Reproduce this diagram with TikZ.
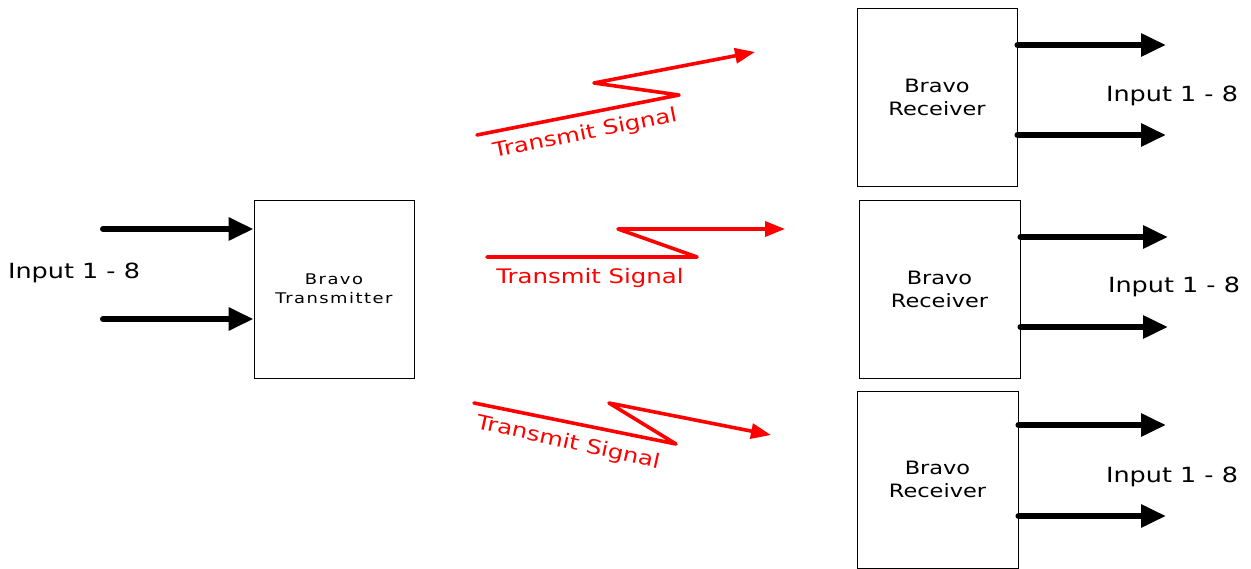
\documentclass[tikz,border=0pt]{standalone}
\usepackage{fontspec}
\setmainfont{DejaVu Sans}[FakeStretch=1.22]
\newfontfamily\txfont{DejaVu Sans}[FakeStretch=1.22,LetterSpace=10]
\usetikzlibrary{arrows.meta}
\definecolor{sigred}{RGB}{255,0,0}
\tikzset{
  unit/.style={draw, line width=0.9pt, minimum width=160pt, minimum height=178pt, align=center, inner sep=0pt},
  rxfont/.style={font=\fontsize{18.4}{23}\selectfont},
  txtext/.style={font=\txfont\fontsize{14.7}{19}\selectfont},
  bigarrow/.style={line width=6pt, line cap=round, -{Triangle[length=25pt,width=22pt]}},
  signal/.style={sigred, line width=3.6pt, line join=round, line cap=round, -{Triangle[length=20pt,width=15pt]}},
  inlabel/.style={font=\fontsize{20.9}{24}\selectfont, inner sep=0pt},
  siglabel/.style={sigred, font=\fontsize{20}{24}\selectfont, inner sep=0pt},
}
\begin{document}
\begin{tikzpicture}[x=1pt,y=-1pt]
\useasboundingbox (0,0) rectangle (1251,569);
% boxes
\node[unit, txtext] (tx) at (334,289) {Bravo\\Transmitter};
\node[unit, rxfont] (rx1) at (937,97) {Bravo\\Receiver};
\node[unit, rxfont, minimum width=161pt] (rx2) at (939.5,289) {Bravo\\Receiver};
\node[unit, rxfont, minimum width=161pt, minimum height=177pt] (rx3) at (937.5,479.5) {Bravo\\Receiver};
% input arrows
\coordinate (in1) at (103,229);
\coordinate (in2) at (103,319);
\draw[bigarrow] (in1) -- (in1 -| tx.west);
\draw[bigarrow] (in2) -- (in2 -| tx.west);
\node[inlabel] (inlab) at (74,273) {Input 1 - 8};
% receiver outputs
\coordinate (o11) at (1166,45);
\coordinate (o12) at (1166,135);
\coordinate (o21) at (1168,237);
\coordinate (o22) at (1168,327);
\coordinate (o31) at (1166,425);
\coordinate (o32) at (1166,516);
\draw[bigarrow] (o11 -| rx1.east) -- (o11);
\draw[bigarrow] (o12 -| rx1.east) -- (o12);
\draw[bigarrow] (o21 -| rx2.east) -- (o21);
\draw[bigarrow] (o22 -| rx2.east) -- (o22);
\draw[bigarrow] (o31 -| rx3.east) -- (o31);
\draw[bigarrow] (o32 -| rx3.east) -- (o32);
\node[inlabel] (out1) at (1172,96) {Input 1 - 8};
\node[inlabel] (out2) at (1174,287) {Input 1 - 8};
\node[inlabel] (out3) at (1172,477) {Input 1 - 8};
% signals
\coordinate (s1a) at (477,135);
\coordinate (s1b) at (679,95);
\coordinate (s1c) at (594,83);
\coordinate (s1d) at (755,52);
\draw[signal] (s1a) -- (s1b) -- (s1c) -- (s1d);
\node[siglabel, rotate=11.4] (sig1) at (585,134) {Transmit Signal};
\coordinate (s2a) at (487,257);
\coordinate (s2b) at (697,257);
\coordinate (s2c) at (618,229);
\coordinate (s2d) at (785,229);
\draw[signal] (s2a) -- (s2b) -- (s2c) -- (s2d);
\node[siglabel] (sig2) at (590,278) {Transmit Signal};
\coordinate (s3a) at (474,403);
\coordinate (s3b) at (676,444);
\coordinate (s3c) at (609,403);
\coordinate (s3d) at (771,435);
\draw[signal] (s3a) -- (s3b) -- (s3c) -- (s3d);
\node[siglabel, rotate=-12.5] (sig3) at (568,443) {Transmit Signal};
\end{tikzpicture}
\end{document}
